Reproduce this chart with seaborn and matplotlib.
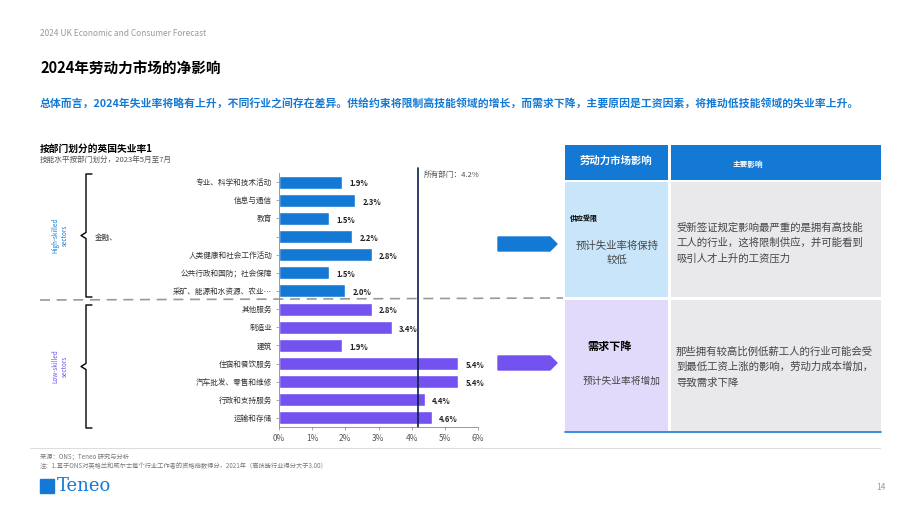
import matplotlib
matplotlib.use("Agg")
import matplotlib.pyplot as plt
import seaborn as sns
import pandas as pd
from matplotlib.patches import Rectangle, Polygon
from matplotlib.lines import Line2D

sns.set_theme(style="white")
plt.rcParams['font.family'] = ['Noto Sans CJK SC', 'DejaVu Sans']

categories = ["专业、科学和技术活动", "信息与通信", "教育", "金融、", "人类健康和社会工作活动",
              "公共行政和国防；社会保障", "采矿、能源和水资源、农业…",
              "其他服务", "制造业", "建筑", "住宿和餐饮服务", "汽车批发、零售和维修",
              "行政和支持服务", "运输和存储"]
values = [1.9, 2.3, 1.5, 2.2, 2.8, 1.5, 2.0, 2.8, 3.4, 1.9, 5.4, 5.4, 4.4, 4.6]
groups = ["高技能"] * 7 + ["低技能"] * 7
all_sectors = 4.2
xticks = [0, 1, 2, 3, 4, 5, 6]

BLUE = "#1479d4"
PURPLE = "#7352f0"
W, H = 920, 518
fig = plt.figure(figsize=(9.2, 5.18), dpi=100)

def fx(x): return x / W
def fy(y): return 1 - y / H

df = pd.DataFrame({"cat": categories, "val": values, "grp": groups})
ax = fig.add_axes([fx(279), fy(427), fx(478) - fx(279), fy(173) - fy(427)])
sns.barplot(data=df, x="val", y="cat", hue="grp", palette={"高技能": BLUE, "低技能": PURPLE},
            dodge=False, legend=False, width=0.72, ax=ax, orient="h", saturation=1)
ax.set_xlim(0, 6)
ax.set_xticks(xticks)
ax.set_xticklabels([f"{t}%" for t in xticks], fontsize=6, color="#555555")
labels = [c if i != 3 else "" for i, c in enumerate(categories)]
ax.set_yticks(range(len(categories)))
ax.set_yticklabels(labels, fontsize=5.5, color="#333333")
ax.set_xlabel(""); ax.set_ylabel("")
for s in ["top", "right"]:
    ax.spines[s].set_visible(False)
for s in ["left", "bottom"]:
    ax.spines[s].set_color("#888888"); ax.spines[s].set_linewidth(0.6)
ax.tick_params(axis="both", length=2, width=0.5, color="#888888", pad=3, left=True, bottom=True)
for i, v in enumerate(values):
    ax.text(v + 0.22, i + 0.1, f"{v}%", fontsize=5.5, fontweight="bold", va="center", color="#222222")
ax.axvline(all_sectors, ymin=0, ymax=1.02, color="#0b1f4d", lw=1.2, clip_on=False)
ax.set_ylim(len(categories) - 0.5, -0.5)

fig.text(fx(424), fy(175), "所有部门：4.2%", fontsize=5.5, color="#555555", va="center")
fig.text(fx(95), fy(238), "金融、", fontsize=5.5, color="#333333", va="center")

# brackets
for (t, b, col, lab) in [(174, 297, BLUE, "High-skilled\nsectors"), (305, 428, PURPLE, "Low-skilled\nsectors")]:
    m = (t + b) / 2
    xs = [fx(92), fx(86), fx(86), fx(81), fx(86), fx(86), fx(92)]
    ys = [fy(t), fy(t), fy(m - 3), fy(m), fy(m + 3), fy(b), fy(b)]
    fig.add_artist(Line2D(xs, ys, color="black", lw=1))
    fig.text(fx(60), fy(m), lab, rotation=90, fontsize=4.5, color=col, ha="center", va="center")

# dashed separator
fig.add_artist(Line2D([fx(40), fx(563)], [fy(300), fy(298)], color="#999999", lw=1.2, ls=(0, (6, 4))))

# header texts
fig.text(fx(40), fy(33), "2024 UK Economic and Consumer Forecast", fontsize=6, color="#999999", va="center")
fig.text(fx(40), fy(69), "2024年劳动力市场的净影响", fontsize=10.5, fontweight="bold", color="black", va="center")
fig.text(fx(40), fy(103), "总体而言，2024年失业率将略有上升，不同行业之间存在差异。供给约束将限制高技能领域的增长，而需求下降，主要原因是工资因素，将推动低技能领域的失业率上升。",
         fontsize=7.8, fontweight="bold", color=BLUE, va="center")
fig.text(fx(40), fy(149), "按部门划分的英国失业率1", fontsize=7, fontweight="bold", color="black", va="center")
fig.text(fx(40), fy(160), "技能水平按部门划分，2023年5月至7月", fontsize=5.5, color="#555555", va="center")

# footer
fig.add_artist(Line2D([fx(30), fx(880)], [fy(448), fy(448)], color="#dddddd", lw=0.8))
fig.text(fx(40), fy(457), "来源：ONS；Teneo 研究与分析", fontsize=4.5, color="#777777", va="center")
fig.text(fx(40), fy(466), "注：1.基于ONS对英格兰和威尔士每个行业工作者的资格指数得分，2021年（高技能行业得分大于3.00）", fontsize=4.5, color="#777777", va="center")
fig.add_artist(Rectangle((fx(40), fy(493)), fx(14), fy(479) - fy(493), color=BLUE))
fig.text(fx(57), fy(486), "Teneo", fontsize=13, family="DejaVu Serif", color=BLUE, va="center")
fig.text(fx(876), fy(487), "14", fontsize=6, color="#999999", va="center")

# arrows
for (yc, col) in [(244, BLUE), (363, PURPLE)]:
    pts = [(fx(498), fy(yc - 7)), (fx(550), fy(yc - 7)), (fx(557), fy(yc)), (fx(550), fy(yc + 7)), (fx(498), fy(yc + 7))]
    fig.add_artist(Polygon(pts, closed=True, color=col))

def rect(x0, y0, x1, y1, c):
    fig.add_artist(Rectangle((fx(x0), fy(y1)), fx(x1) - fx(x0), fy(y0) - fy(y1), color=c, lw=0))

rect(565, 145, 668, 180, BLUE)
rect(671, 145, 881, 180, BLUE)
rect(565, 182, 668, 297, "#c9e5fa")
rect(671, 182, 881, 297, "#e9e9ec")
rect(565, 300, 668, 431, "#e1dafa")
rect(671, 300, 881, 431, "#e9e9ec")
fig.add_artist(Line2D([fx(565), fx(881)], [fy(432), fy(432)], color=BLUE, lw=1.2))

fig.text(fx(616), fy(161), "劳动力市场影响", fontsize=7.5, color="white", fontweight="bold", ha="center", va="center")
fig.text(fx(748), fy(164), "主要影响", fontsize=5.5, color="white", fontweight="bold", ha="center", va="center")
fig.text(fx(570), fy(218), "供应受限", fontsize=5, fontweight="bold", color="black", va="center")
fig.text(fx(617), fy(253), "预计失业率将保持\n较低", fontsize=7.5, color="#444444", ha="center", va="center", linespacing=1.5)
fig.text(fx(676), fy(243), "受新签证规定影响最严重的是拥有高技能\n工人的行业，这将限制供应，并可能看到\n吸引人才上升的工资压力",
         fontsize=7.5, color="#444444", va="center", linespacing=1.6)
fig.text(fx(610), fy(346), "需求下降", fontsize=8, fontweight="bold", color="black", ha="center", va="center")
fig.text(fx(622), fy(381), "预计失业率将增加", fontsize=7, color="#444444", ha="center", va="center")
fig.text(fx(676), fy(367), "那些拥有较高比例低薪工人的行业可能会受\n到最低工资上涨的影响，劳动力成本增加，\n导致需求下降",
         fontsize=7.5, color="#444444", va="center", linespacing=1.6)

fig.savefig("out.png", dpi=100)
